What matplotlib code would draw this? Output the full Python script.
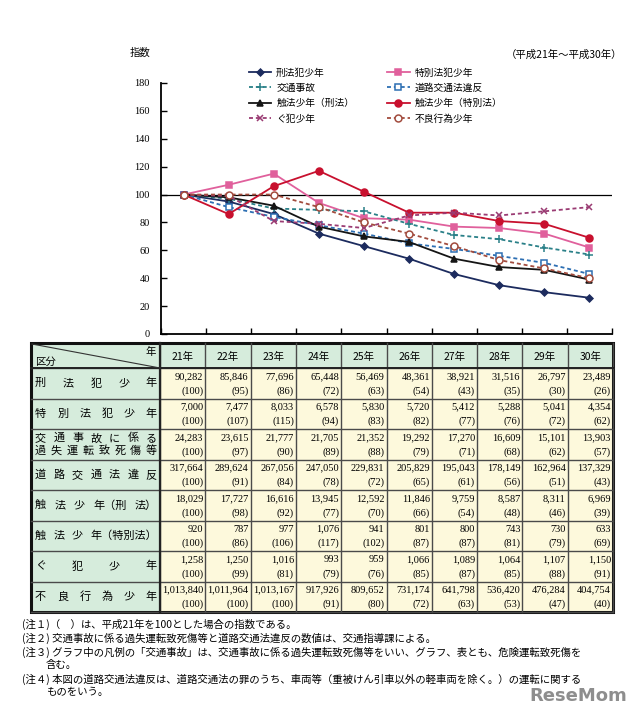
import matplotlib
matplotlib.use('Agg')
import matplotlib.pyplot as plt
from matplotlib.patches import Rectangle

plt.rcParams['font.family'] = ['Noto Sans CJK JP', 'DejaVu Sans']

# ---------------- data ----------------
years = ['21年', '22年', '23年', '24年', '25年', '26年', '27年', '28年', '29年', '30年']
series_names = ['刑法犯少年', '特別法犯少年', '交通事故', '道路交通法違反',
                '触法少年（刑法）', '触法少年（特別法）', 'ぐ犯少年', '不良行為少年']

keiho_count = [90282, 85846, 77696, 65448, 56469, 48361, 38921, 31516, 26797, 23489]
keiho_idx = [100, 95, 86, 72, 63, 54, 43, 35, 30, 26]
tokubetsu_count = [7000, 7477, 8033, 6578, 5830, 5720, 5412, 5288, 5041, 4354]
tokubetsu_idx = [100, 107, 115, 94, 83, 82, 77, 76, 72, 62]
kotsujiko_count = [24283, 23615, 21777, 21705, 21352, 19292, 17270, 16609, 15101, 13903]
kotsujiko_idx = [100, 97, 90, 89, 88, 79, 71, 68, 62, 57]
doro_count = [317664, 289624, 267056, 247050, 229831, 205829, 195043, 178149, 162964, 137329]
doro_idx = [100, 91, 84, 78, 72, 65, 61, 56, 51, 43]
shoho_keiho_count = [18029, 17727, 16616, 13945, 12592, 11846, 9759, 8587, 8311, 6969]
shoho_keiho_idx = [100, 98, 92, 77, 70, 66, 54, 48, 46, 39]
shoho_toku_count = [920, 787, 977, 1076, 941, 801, 800, 743, 730, 633]
shoho_toku_idx = [100, 86, 106, 117, 102, 87, 87, 81, 79, 69]
guhan_count = [1258, 1250, 1016, 993, 959, 1066, 1089, 1064, 1107, 1150]
guhan_idx = [100, 99, 81, 79, 76, 85, 87, 85, 88, 91]
furyo_count = [1013840, 1011964, 1013167, 917926, 809652, 731174, 641798, 536420, 476284, 404754]
furyo_idx = [100, 100, 100, 91, 80, 72, 63, 53, 47, 40]

counts = [keiho_count, tokubetsu_count, kotsujiko_count, doro_count,
          shoho_keiho_count, shoho_toku_count, guhan_count, furyo_count]
indices = [keiho_idx, tokubetsu_idx, kotsujiko_idx, doro_idx,
           shoho_keiho_idx, shoho_toku_idx, guhan_idx, furyo_idx]

row_label_tokens = [
    [['刑', '法', '犯', '少', '年']],
    [['特', '別', '法', '犯', '少', '年']],
    [['交', '通', '事', '故', 'に', '係', 'る'], ['過', '失', '運', '転', '致', '死', '傷', '等']],
    [['道', '路', '交', '通', '法', '違', '反']],
    [['触', '法', '少', '年（刑', '法）']],
    [['触', '法', '少', '年（特別法）']],
    [['ぐ', '犯', '少', '年']],
    [['不', '良', '行', '為', '少', '年']],
]

notes = [
    ('(注１)（　）は、平成21年を100とした場合の指数である。', 22),
    ('(注２) 交通事故に係る過失運転致死傷等と道路交通法違反の数値は、交通指導課による。', 22),
    ('(注３) グラフ中の凡例の「交通事故」は、交通事故に係る過失運転致死傷等をいい、グラフ、表とも、危険運転致死傷を', 22),
    ('含む。', 46),
    ('(注４) 本図の道路交通法違反は、道路交通法の罪のうち、車両等（重被けん引車以外の軽車両を除く。）の運転に関する', 22),
    ('ものをいう。', 46),
]

styles = [
    dict(color='#1c2b5e', ls='-', marker='D', ms=3.5, mfc='#1c2b5e'),
    dict(color='#e0609c', ls='-', marker='s', ms=5, mfc='#e0609c'),
    dict(color='#2a8088', ls=(0, (2.2, 1.6)), marker='+', ms=6, mfc='#2a8088'),
    dict(color='#2d6fb3', ls=(0, (2.2, 1.6)), marker='s', ms=5, mfc='white'),
    dict(color='#151515', ls='-', marker='^', ms=5, mfc='#151515'),
    dict(color='#c8102e', ls='-', marker='o', ms=5, mfc='#c8102e'),
    dict(color='#9a3b73', ls=(0, (2.2, 1.6)), marker='x', ms=5, mfc='#9a3b73'),
    dict(color='#a24c3e', ls=(0, (2.2, 1.6)), marker='o', ms=5, mfc='white'),
]

W, H = 640, 709
fig = plt.figure(figsize=(W / 100, H / 100), dpi=100)
fig.patch.set_facecolor('white')

def fx(x):
    return x / W

def fy(y):
    return 1 - y / H

# ---------------- chart ----------------
x0, x1, yb, yt = 161, 612, 334, 83
ax = fig.add_axes([fx(x0), fy(yb), fx(x1) - fx(x0), fy(yt) - fy(yb)])
ax.set_xlim(-0.5, len(years) - 0.5)
ax.set_ylim(0, 180)
ax.axhline(100, color='black', lw=0.9, zorder=1)
xs = list(range(len(years)))
lines = []
for name, idx, st in zip(series_names, indices, styles):
    ln, = ax.plot(xs, idx, color=st['color'], ls=st['ls'], lw=1.3,
                  marker=st['marker'], ms=st['ms'], mfc=st['mfc'],
                  mec=st['color'], mew=1.1, label=name, zorder=3)
    lines.append(ln)
for s in ['top', 'right']:
    ax.spines[s].set_visible(False)
for s in ['left', 'bottom']:
    ax.spines[s].set_linewidth(1.3)
ax.set_yticks(range(0, 181, 20))
ax.set_xticks([i - 0.5 for i in range(len(years) + 1)])
ax.set_xticklabels([])
ax.tick_params(axis='both', direction='in', length=4, width=1.0)
ax.tick_params(axis='y', pad=8)
for lab in ax.get_yticklabels():
    lab.set_fontfamily('Liberation Serif')
    lab.set_fontsize(7.5)
ax.patch.set_alpha(0)

order = [0, 2, 4, 6, 1, 3, 5, 7]
leg = fig.legend([lines[i] for i in order], [series_names[i] for i in order],
                 ncol=2, loc='upper left', bbox_to_anchor=(fx(249), fy(67.5)),
                 frameon=False, fontsize=7, handlelength=2.3, handletextpad=0.5,
                 labelspacing=0.55, columnspacing=3.4, borderaxespad=0, borderpad=0)

fig.text(fx(130), fy(53), '指数', fontsize=7.5, ha='left', va='center')
fig.text(fx(622), fy(55), '（平成21年～平成30年）', fontsize=7.5, ha='right', va='center')

# ---------------- table ----------------
ov = fig.add_axes([0, 0, 1, 1])
ov.set_xlim(0, W)
ov.set_ylim(H, 0)
ov.axis('off')
renderer = fig.canvas.get_renderer()

tx0, tlab, tx1 = 31, 160, 613
ty0, thead = 343, 368
rh = 30.5
cw = (tx1 - tlab) / len(years)
nrows = len(series_names)
ty1 = thead + nrows * rh
green = '#d6ecdc'
yellow = '#fdf9dc'
edge = '#4a4a4a'

ov.add_patch(Rectangle((tx0, ty0), tx1 - tx0, ty1 - ty0, facecolor=yellow, edgecolor='none'))
ov.add_patch(Rectangle((tx0, ty0), tx1 - tx0, thead - ty0, facecolor=green, edgecolor='none'))
ov.add_patch(Rectangle((tx0, ty0), tlab - tx0, ty1 - ty0, facecolor=green, edgecolor='none'))

for i in range(nrows + 1):
    y = thead + i * rh
    ov.plot([tx0, tx1], [y, y], color=edge, lw=1.0)
for j in range(len(years) + 1):
    x = tlab + j * cw
    ov.plot([x, x], [ty0, ty1], color=edge, lw=1.0)
ov.plot([tlab, tlab], [ty0, ty1], color='#222222', lw=1.6)
ov.plot([tx0, tx1], [thead, thead], color='#222222', lw=1.4)
ov.add_patch(Rectangle((tx0, ty0), tx1 - tx0, ty1 - ty0, facecolor='none',
                       edgecolor='#111111', lw=2.2))
ov.plot([tx0 + 1, tlab], [ty0 + 1, thead], color='#333333', lw=0.8)
ov.text(tx0 + 4, thead - 6.5, '区分', fontsize=7.5, ha='left', va='center')
ov.text(tlab - 4, ty0 + 8.5, '年', fontsize=7.5, ha='right', va='center')

for j, yr in enumerate(years):
    ov.text(tlab + (j + 0.5) * cw, (ty0 + thead) / 2 + 1, yr, fontsize=7.5,
            ha='center', va='center')

def distribute(tokens, y, xl, xr, fs=8):
    txts = [ov.text(0, y, t, fontsize=fs, ha='left', va='center') for t in tokens]
    widths = [t.get_window_extent(renderer).width for t in txts]
    gap = (xr - xl - sum(widths)) / max(len(tokens) - 1, 1)
    x = xl
    for t, w in zip(txts, widths):
        t.set_x(x)
        x += w + gap

for i in range(nrows):
    ytop = thead + i * rh
    lines_tok = row_label_tokens[i]
    if len(lines_tok) == 1:
        distribute(lines_tok[0], ytop + rh / 2, tx0 + 4, tlab - 3)
    else:
        distribute(lines_tok[0], ytop + rh * 0.3, tx0 + 4, tlab - 3)
        distribute(lines_tok[1], ytop + rh * 0.72, tx0 + 4, tlab - 3)
    for j in range(len(years)):
        xr = tlab + (j + 1) * cw - 2
        ov.text(xr, ytop + rh * 0.28, f'{counts[i][j]:,}', fontsize=7.5,
                ha='right', va='center', family='Liberation Serif')
        ov.text(xr, ytop + rh * 0.76, f'({indices[i][j]})', fontsize=7.5,
                ha='right', va='center', family='Liberation Serif')

# ---------------- notes ----------------
note_y = [624, 638, 652, 665, 679, 692]
for (txt, nx), ny in zip(notes, note_y):
    ov.text(nx, ny, txt, fontsize=7.5, ha='left', va='center')

ov.text(627, 696, 'ReseMom', fontsize=13, fontweight='bold', color='#7a7a7a',
        ha='right', va='center', family='DejaVu Sans', alpha=0.85)

fig.savefig('out.png', dpi=100, facecolor='white')
